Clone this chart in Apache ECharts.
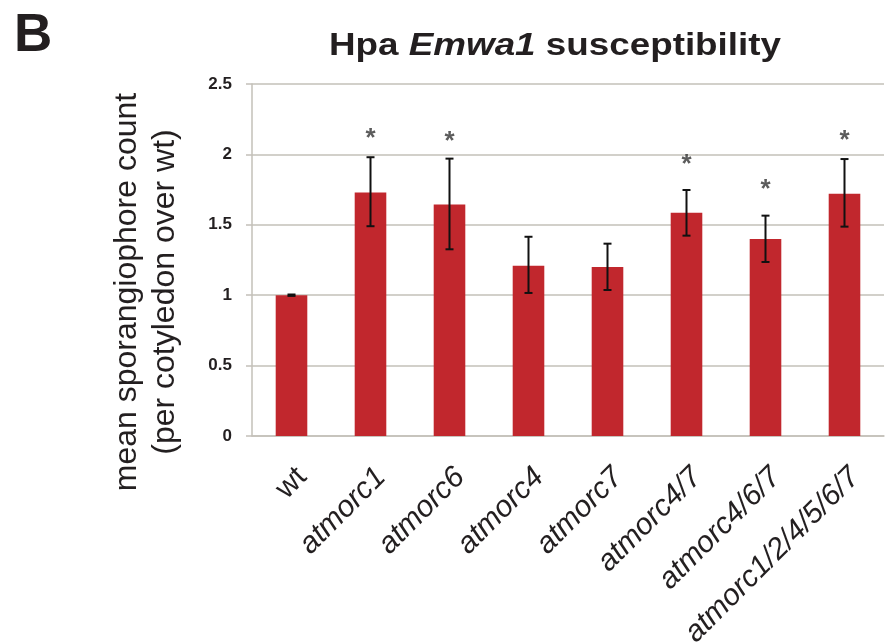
<!DOCTYPE html>
<html>
<head>
    <meta charset="utf-8">
    <script src="https://cdn.jsdelivr.net/npm/echarts@6/dist/echarts.min.js"></script>
    <style>
        html, body { margin: 0; padding: 0; background: #fff; }
        #main { width: 886px; height: 642px; }
    </style>
</head>
<body>
<div id="main"></div>
<script type="text/javascript">
    // values
    var categories = ['wt', 'atmorc1', 'atmorc6', 'atmorc4', 'atmorc7', 'atmorc4/7', 'atmorc4/6/7', 'atmorc1/2/4/5/6/7'];
    var means = [1.0, 1.73, 1.645, 1.21, 1.20, 1.586, 1.40, 1.72];
    var errHigh = [1.005, 1.98, 1.97, 1.415, 1.366, 1.747, 1.565, 1.967];
    var errLow = [0.995, 1.49, 1.326, 1.016, 1.037, 1.423, 1.236, 1.487];
    var starAt = [null, 2.155, 2.13, null, null, 1.97, 1.79, 2.14];
    var yTicks = [0, 0.5, 1, 1.5, 2, 2.5];

    var font = "'Liberation Sans', Arial, sans-serif";
    var gridColor = '#c3c0b9';

    var myChart = echarts.init(document.getElementById('main'));

    var errData = categories.map(function (c, i) {
        return [i, errHigh[i], errLow[i]];
    });
    var starData = categories.map(function (c, i) {
        return starAt[i] == null ? [i, '-'] : [i, starAt[i]];
    });

    function renderErr(params, api) {
        var i = api.value(0);
        var hi = api.coord([i, api.value(1)]);
        var lo = api.coord([i, api.value(2)]);
        var cw = 4;
        var st = { stroke: '#111', lineWidth: 2 };
        return {
            type: 'group',
            children: [
                { type: 'line', shape: { x1: hi[0], y1: hi[1], x2: lo[0], y2: lo[1] }, style: st },
                { type: 'line', shape: { x1: hi[0] - cw, y1: hi[1], x2: hi[0] + cw, y2: hi[1] }, style: st },
                { type: 'line', shape: { x1: lo[0] - cw, y1: lo[1], x2: lo[0] + cw, y2: lo[1] }, style: st }
            ]
        };
    }

    var opt = {
        animation: false,
        backgroundColor: '#fff',
        grid: { left: 252, right: 2, top: 84, bottom: 206, containLabel: false, outerBoundsMode: 'none' },
        graphic: [
            {
                type: 'text', left: 14, top: 10,
                style: { text: 'B', font: 'bold 53px ' + font, fill: '#231f20' }
            },
            {
                type: 'text', x: 555, y: 46, scaleX: 1.15,
                style: {
                    text: '{n|Hpa }{i|Emwa1}{n| susceptibility}',
                    align: 'center', verticalAlign: 'middle',
                    rich: {
                        n: { font: 'bold 32px ' + font, fill: '#231f20' },
                        i: { font: 'italic bold 32px ' + font, fill: '#231f20' }
                    }
                }
            },
            {
                type: 'text', x: 146, y: 292, rotation: Math.PI / 2,
                style: {
                    text: 'mean sporangiophore count\n(per cotyledon over wt)',
                    font: '32px ' + font, fill: '#231f20',
                    align: 'center', verticalAlign: 'middle', lineHeight: 38
                }
            }
        ],
        xAxis: {
            type: 'category',
            data: categories,
            axisLine: { lineStyle: { color: gridColor, width: 1.5 } },
            axisTick: { length: 6, lineStyle: { color: gridColor, width: 1.5 } },
            axisLabel: {
                rotate: 45,
                margin: 26,
                interval: 0,
                verticalAlign: 'top',
                hideOverlap: false,
                formatter: function (v) {
                    return v === 'wt' ? '{n|' + v + '}' : '{i|' + v + '}';
                },
                rich: {
                    n: { fontFamily: font, fontSize: 30, color: '#231f20' },
                    i: { fontFamily: font, fontSize: 30, fontStyle: 'italic', color: '#231f20' }
                }
            }
        },
        yAxis: {
            type: 'value',
            min: 0,
            max: 2.5,
            interval: 0.5,
            axisLine: { show: true, lineStyle: { color: gridColor, width: 1.5 } },
            axisTick: { show: true, length: 6, lineStyle: { color: gridColor, width: 1.5 } },
            splitLine: { lineStyle: { color: gridColor, width: 1.5 } },
            axisLabel: {
                margin: 20,
                fontFamily: font, fontSize: 17, fontWeight: 'bold', color: '#231f20',
                formatter: function (v) { return yTicks.indexOf(v) >= 0 ? String(v) : ''; }
            }
        },
        series: [
            {
                type: 'bar',
                data: means,
                barWidth: '40%',
                itemStyle: { color: '#c1272d' },
                z: 2
            },
            {
                type: 'custom',
                data: errData,
                renderItem: renderErr,
                z: 3
            },
            {
                type: 'scatter',
                data: starData,
                symbolSize: 1,
                itemStyle: { color: 'rgba(0,0,0,0)' },
                label: {
                    show: true, position: 'inside', formatter: '*',
                    fontFamily: font, fontSize: 26, fontWeight: 'bold', color: '#333',
                    offset: [0, 6]
                },
                z: 4
            }
        ]
    };

    myChart.setOption(option = opt);
</script>
</body>
</html>
